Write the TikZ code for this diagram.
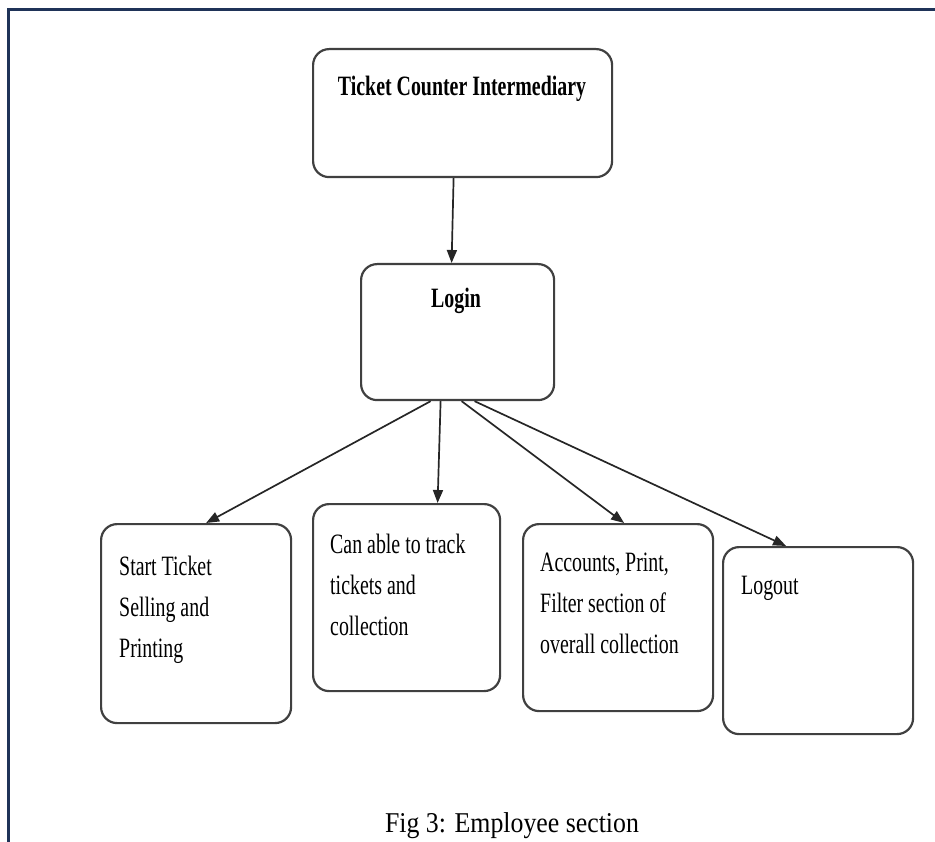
\documentclass[tikz,border=0pt]{standalone}
\usepackage{fontspec}
\setmainfont[FakeStretch=0.71]{Liberation Serif}
\newfontfamily\capfont[FakeStretch=0.9]{Liberation Serif}
\usepackage{tikz}
\usetikzlibrary{positioning,arrows.meta}
\definecolor{framenavy}{RGB}{31,51,88}

\begin{document}
\begin{tikzpicture}[x=1pt,y=-1pt,
	module/.style={rectangle,rounded corners=16pt,draw=black!75,line width=2.2pt,below right,inner sep=0pt},
	boxtext/.style={anchor=north west,inner sep=0pt,align=left,font=\fontsize{28}{41}\selectfont},
	headtext/.style={anchor=base,inner sep=0pt,font=\fontsize{28}{34}\selectfont\bfseries},
	flow/.style={-{Triangle[length=13pt,width=10pt]},line width=1.7pt,black!85}]
		\useasboundingbox (0,0) rectangle (935,842);

		% page frame
		\draw[framenavy,line width=3pt] (935,10) -- (8,10) -- (8,842);

		% individual modules
		\node[module,minimum width=299pt,minimum height=128pt] (tci) at (312,48) {};
		\node[module,minimum width=193pt,minimum height=136pt] (login) at (360,263) {};
		\node[module,minimum width=190pt,minimum height=199pt] (sell) at (100,523) {};
		\node[module,minimum width=187pt,minimum height=187pt] (track) at (312,503) {};
		\node[module,minimum width=190pt,minimum height=187pt] (acct) at (522,523) {};
		\node[module,minimum width=190pt,minimum height=187pt] (logout) at (722,546) {};

		% module texts
		\node[headtext] (tcit) at (462,96) {Ticket Counter Intermediary};
		\node[headtext] (logint) at (456,308) {Login};
		\node[boxtext] (sellt) at (119,556) {Start Ticket\\Selling and\\Printing};
		\node[boxtext] (trackt) at (330,534) {Can able to track\\tickets and\\collection};
		\node[boxtext] (acctt) at (540,553) {Accounts, Print,\\Filter section of\\overall collection};
		\node[boxtext] (logoutt) at (741,576) {Logout};

		% flow from the counter through login
		\draw[flow] ([xshift=-9pt]tci.south) -- ([xshift=-6pt]login.north);
		\draw[flow] ([xshift=-27pt]login.south) -- ([xshift=10pt]sell.north);
		\draw[flow] ([xshift=-17pt]login.south) -- ([xshift=31pt]track.north);
		\draw[flow] ([xshift=4pt]login.south) -- ([xshift=6pt]acct.north);
		\draw[flow] ([xshift=17pt]login.south) -- ([xshift=-32pt]logout.north);

		% caption
		\node[anchor=base,inner sep=0pt,font=\capfont\fontsize{28.7}{34}\selectfont] (fig) at (512,832) {Fig 3: Employee section};
	\end{tikzpicture}
\end{document}
